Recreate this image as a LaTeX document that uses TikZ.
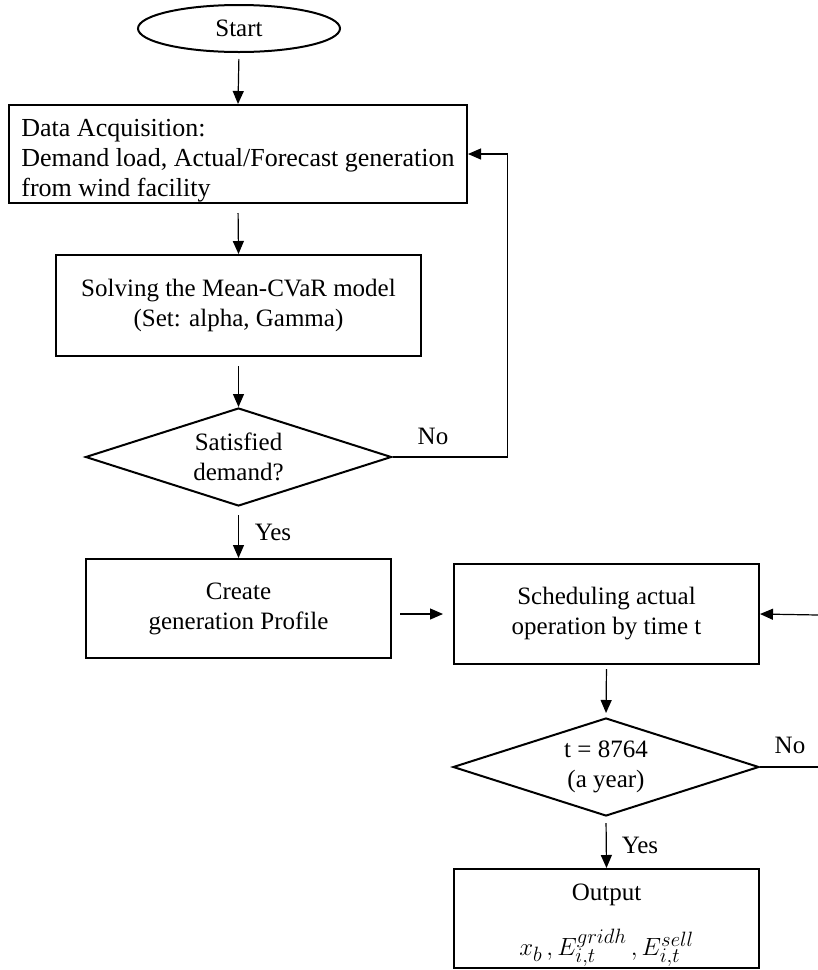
\documentclass[tikz,border=0pt]{standalone}
\usepackage{fontspec}
\setmainfont{Liberation Serif}
\usetikzlibrary{shapes.geometric,arrows.meta}

\begin{document}
\begin{tikzpicture}[x=1pt,y=-1pt,line width=1.2pt,font=\fontsize{25}{30}\selectfont,
  >={Triangle[length=13pt,width=11pt]},
  term node/.style={ellipse,draw,line width=2pt,inner sep=0pt,minimum width=202,minimum height=47},
  box node/.style={rectangle,draw,line width=2pt,align=center,inner sep=0pt},
  dec node/.style={diamond,draw,line width=2pt,align=center,inner sep=0pt,aspect=3,minimum width=306,minimum height=98}]

          \useasboundingbox (0,0) rectangle (818,970);

          \node[term node] (start) at (239,28.5) {Start};
          \node[box node,minimum width=458,minimum height=98,align=left,font=\fontsize{26}{30}\selectfont] (data) at (238,154) {\rule{0pt}{31pt}Data Acquisition:\\Demand load, Actual/Forecast generation\\from wind facility};
          \node[box node,minimum width=365,minimum height=101] (solve) at (238.5,305.5) {Solving the Mean-CVaR model\\(Set: alpha, Gamma)};
          \node[dec node] (sat) at (238.5,457) {Satisfied\\demand?};
          \node[box node,minimum width=305,minimum height=99] (create) at (238.5,608.5) {Create\\generation Profile};
          \node[box node,minimum width=305,minimum height=100] (sched) at (606.5,614) {Scheduling actual\\operation by time t};
          \node[dec node] (year) at (606,767) {t = 8764\\(a year)};
          \node[box node,minimum width=305,minimum height=99] (out) at (606.5,918.5) {\rule{0pt}{30pt}Output\\[22pt]{\fontsize{28}{30}\selectfont$x_b\,, E_{i,t}^{gridh}\,, E_{i,t}^{sell}$}};

          \node (no1) at (433,436) {No};
          \node (yes1) at (273,532) {Yes};
          \node (no2) at (790,745) {No};
          \node (yes2) at (640,845) {Yes};

          \coordinate (edge1) at (818,615);
          \coordinate (edge2) at (818,767);

          \draw[->,shorten <=6pt] (start.south) -- (data.north);
          \draw[->,shorten <=9pt] (data.south) -- (solve.north);
          \draw[->,shorten <=9pt] (solve.south) -- (sat.north);
          \draw[->,shorten <=8pt] (sat.south) -- (create.north);
          \draw[->,shorten <=8pt,shorten >=10pt] (create.east |- sched.west) -- (sched.west);
          \draw[->,shorten <=4pt,shorten >=4pt] (sched.south) -- (year.north);
          \draw[->,shorten <=6pt] (year.south) -- (out.north);
          \draw[->] (sat.east) -- ++(115,0) |- (data.east);
          \draw (year.east) -- (edge2);
          \draw[->] (edge1) -- (sched.east);

        \end{tikzpicture}
\end{document}
